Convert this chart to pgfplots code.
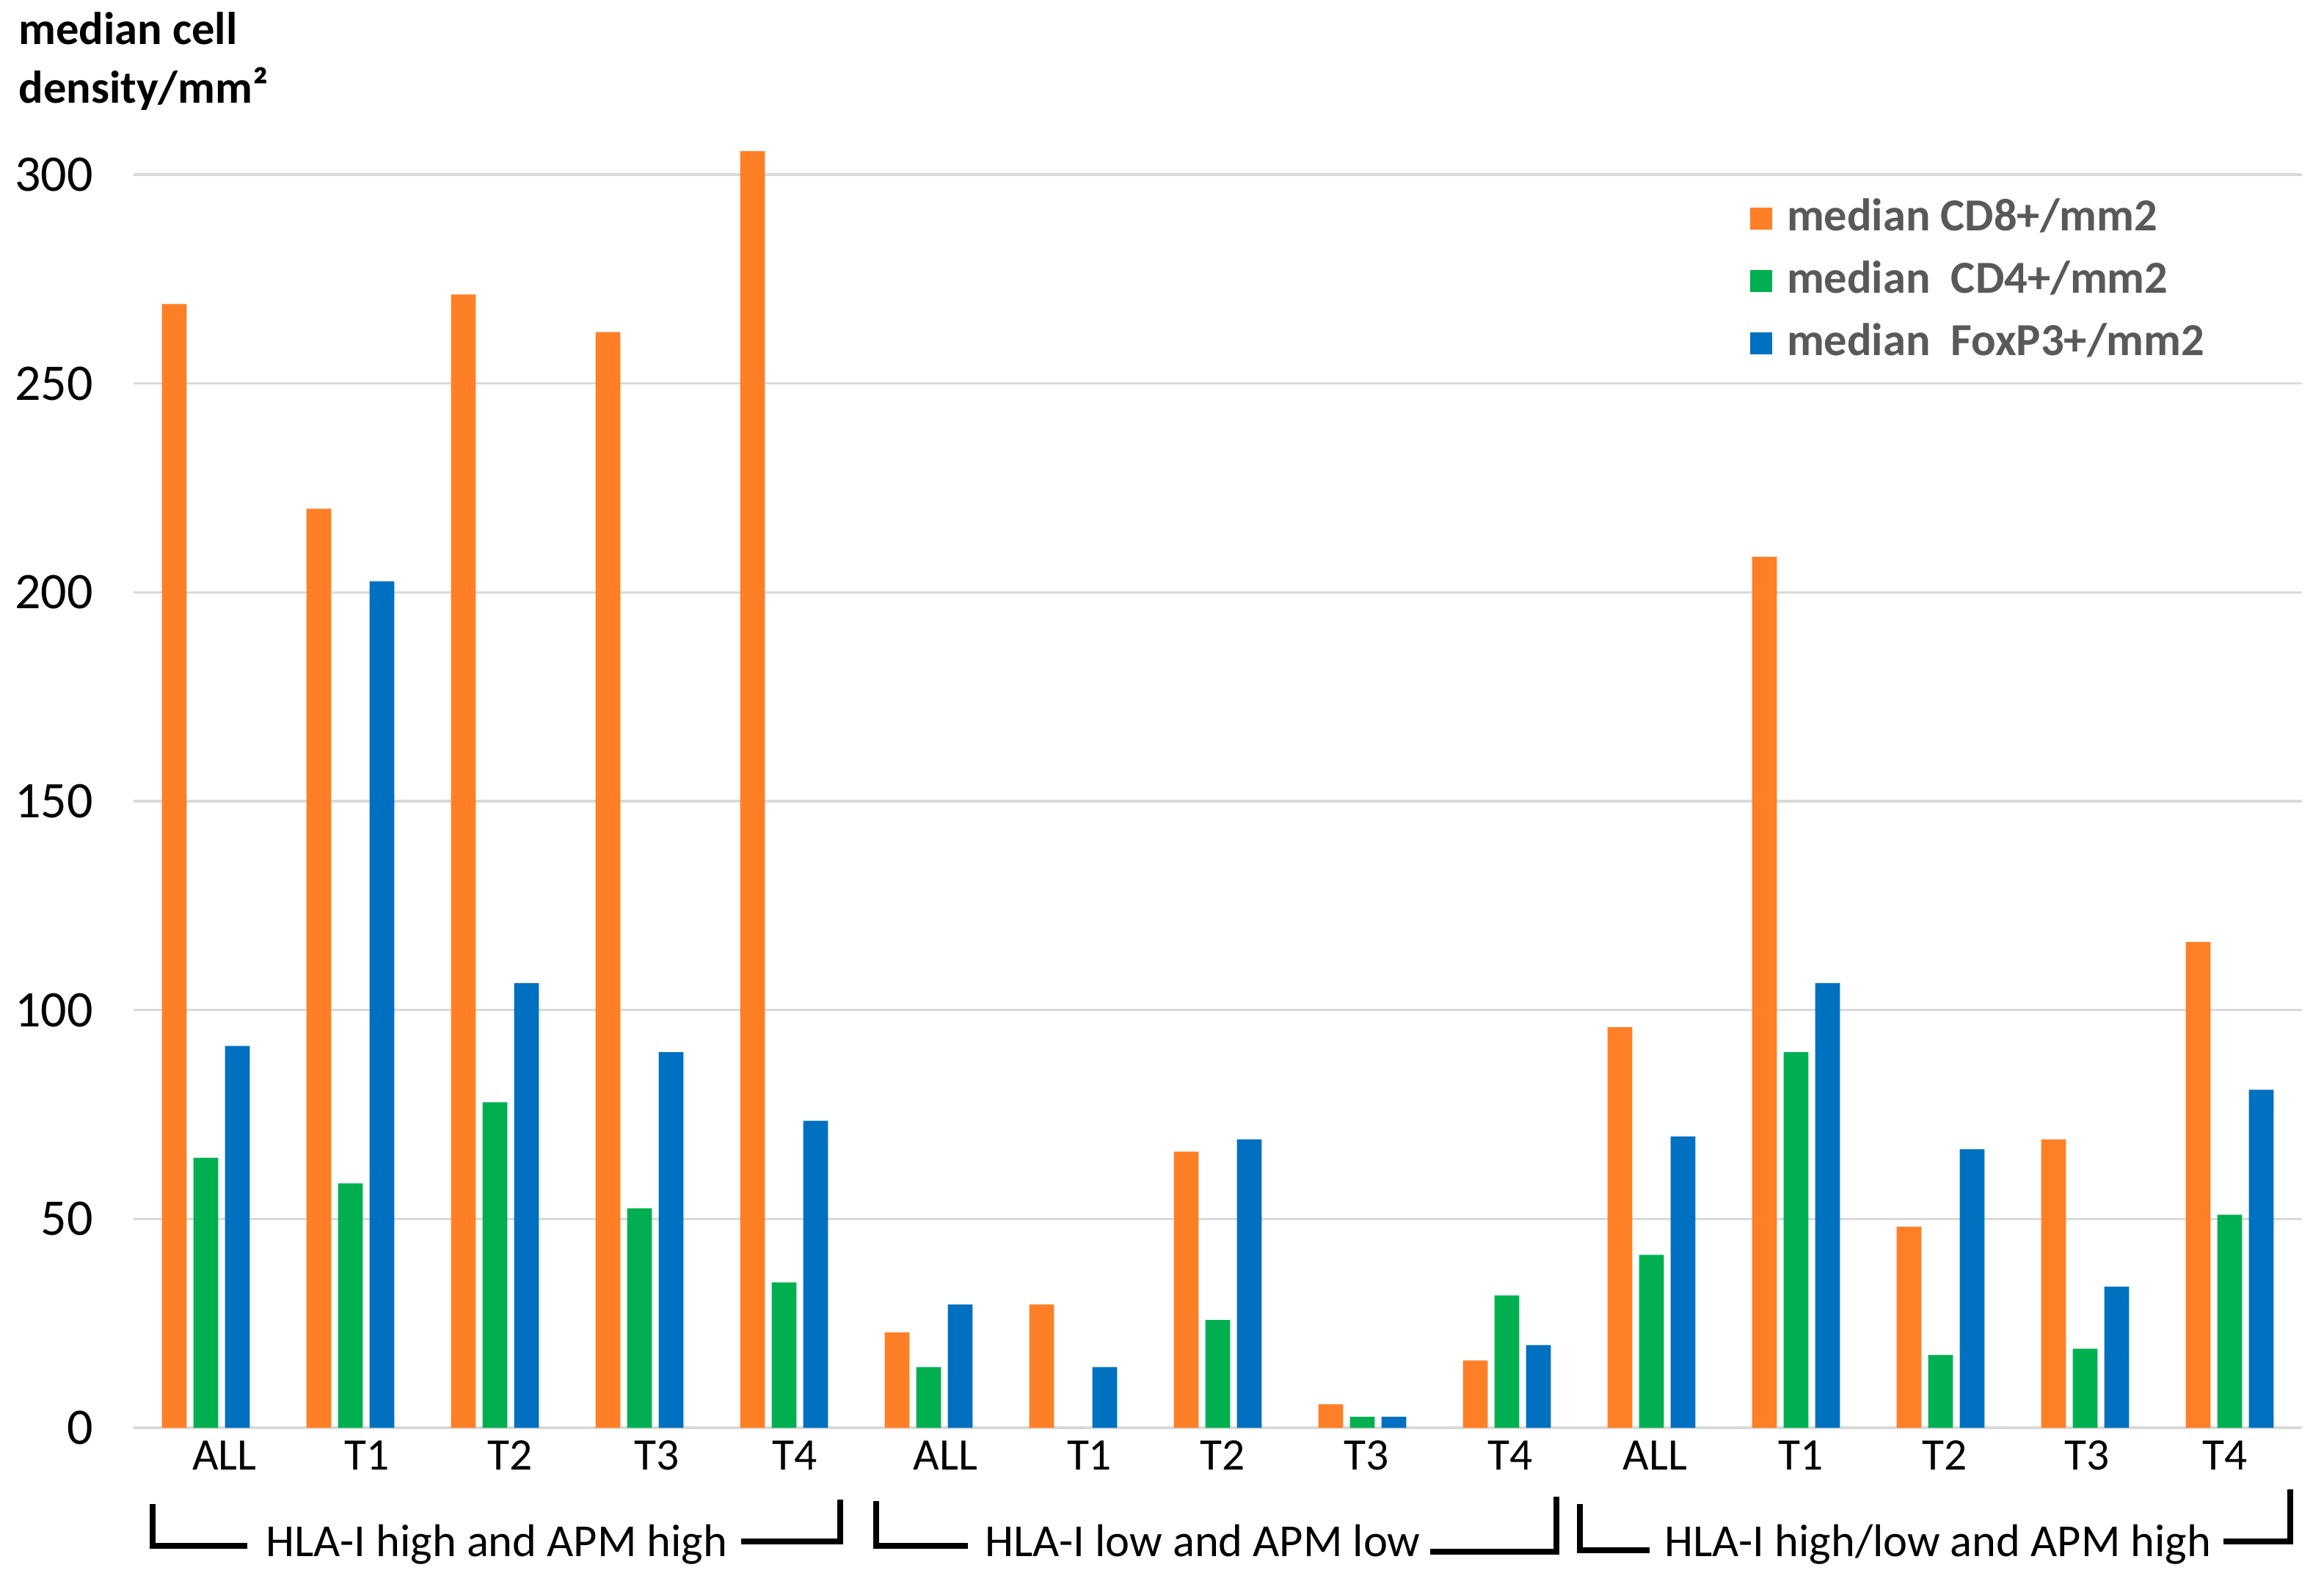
\documentclass[border=0pt]{standalone}
\usepackage{fontspec}
\setmainfont{Carlito}
\usepackage{pgfplots}
\usepackage{pgfplotstable}
\pgfplotsset{compat=1.18}

\definecolor{cdeight}{HTML}{FF7F27}
\definecolor{cdfour}{HTML}{00B050}
\definecolor{foxp}{HTML}{0070C0}
\definecolor{gridgray}{HTML}{D9D9D9}
\definecolor{leggray}{HTML}{595959}

% median cell densities per mm2, categories 0..14
\pgfplotstableread{
x  cd8   cd4   foxp3
0  269.0 64.6  91.4
1  220.0 58.5  202.6
2  271.3 77.9  106.4
3  262.3 52.5  89.9
4  305.6 34.8  73.5
5  22.8  14.5  29.5
6  29.5  0.0   14.5
7  66.1  25.8  69.0
8  5.6   2.6   2.6
9  16.1  31.7  19.8
10 95.9  41.4  69.7
11 208.5 89.9  106.4
12 48.1  17.4  66.7
13 69.0  18.9  33.8
14 116.3 51.0  80.9
}\cellden

\begin{document}
\begin{tikzpicture}
\useasboundingbox (-36.4pt,-42.4pt) rectangle (597pt,389.2pt);
\begin{axis}[
    at={(0pt,0pt)}, anchor=south west,
    scale only axis, width=591pt, height=353pt,
    xmin=-0.5, xmax=14.5, ymin=0, ymax=310,
    ybar=1.85pt, bar width=6.75pt,
    axis line style={draw=none},
    major tick length=0pt,
    tick style={draw=none},
    ymajorgrids, grid style={gridgray, line width=0.7pt},
    % category labels sit a little right of their bar groups, as in the original
    xtick={0.129,1.114,2.103,3.118,4.072,5.117,6.112,7.035,8.030,9.024,10.024,11.033,12.028,13.012,13.966},
    xticklabels={ALL,T1,T2,T3,T4,ALL,T1,T2,T3,T4,ALL,T1,T2,T3,T4},
    ytick={0,50,...,300},
    xticklabel style={font=\fontsize{12.3}{14}\selectfont},
    yticklabel style={font=\fontsize{14}{16}\selectfont, xshift=-7.5pt},
    /pgf/number format/assume math mode=true,
    clip=false,
    legend image code/.code={\fill[#1] (0pt,-3pt) rectangle (6pt,3pt);},
    legend cell align=left,
    legend style={at={(0.7452,0.9507)}, anchor=north west, draw=none, fill=none,
        inner sep=0pt, row sep=5.5pt,
        font=\bfseries\fontsize{12.5}{15}\selectfont, text=leggray,
        nodes={inner sep=0pt, text height=9pt, text depth=2.5pt},
        /tikz/every odd column/.style={column sep=4pt}},
]
\addplot[fill=cdeight, draw=none] table[x=x, y=cd8] {\cellden};
\addplot[fill=cdfour, draw=none] table[x=x, y=cd4] {\cellden};
\addplot[fill=foxp, draw=none] table[x=x, y=foxp3] {\cellden};
\legend{median CD8+/mm2, median\ \ CD4+/mm2, median\ \ FoxP3+/mm2}
\end{axis}

% y axis title
\node[anchor=base west, font=\bfseries\fontsize{12.5}{15}\selectfont] at (-34.8pt,377pt) {median cell};
\node[anchor=base west, font=\bfseries\fontsize{12.5}{15}\selectfont] at (-34.8pt,361pt) {density/mm²};

% group brackets
\begin{scope}[line width=1.5pt]
\draw (5.2pt,-20.8pt) |- (31pt,-32.2pt);
\draw (165.6pt,-31pt) -| (192.6pt,-19.6pt);
\draw (202.4pt,-20pt) |- (227.4pt,-32.2pt);
\draw (353.4pt,-33.8pt) -| (387.8pt,-18.8pt);
\draw (394.2pt,-20.8pt) |- (413.2pt,-33.4pt);
\draw (569.6pt,-31pt) -| (587.8pt,-16.8pt);
\end{scope}
\begin{scope}[every node/.style={anchor=base, font=\fontsize{12.5}{15}\selectfont}]
\node at (99pt,-35pt) {HLA-I high and APM high};
\node at (291.4pt,-35pt) {HLA-I low and APM low};
\node at (491.8pt,-35pt) {HLA-I high/low and APM high};
\end{scope}
\end{tikzpicture}
\end{document}
